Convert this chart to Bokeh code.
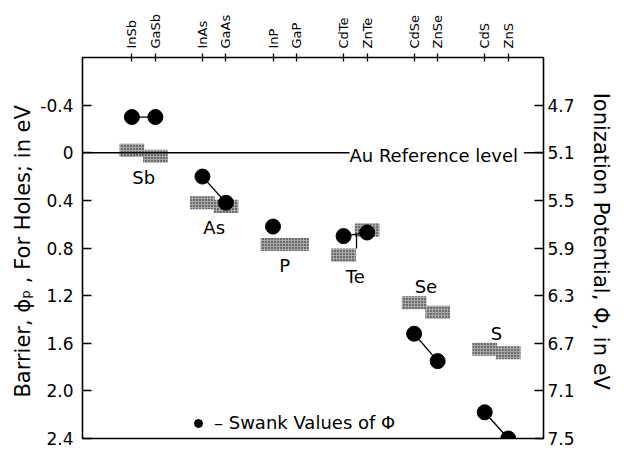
import math
from bokeh.plotting import figure
from bokeh.models import (Range1d, LinearAxis, FixedTicker, Legend, LegendItem,
                          Label, Span, ColumnDataSource)
from bokeh.embed import file_html
from bokeh.resources import INLINE

# ---------------- data ----------------
anions = ["Sb", "As", "P", "Te", "Se", "S"]
compounds = ["InSb", "GaSb", "InAs", "GaAs", "InP", "GaP",
             "CdTe", "ZnTe", "CdSe", "ZnSe", "CdS", "ZnS"]
# Swank values of barrier (eV, left axis); GaP has none
swank = [-0.30, -0.30, 0.20, 0.42, 0.62, float("nan"),
         0.70, 0.67, 1.52, 1.75, 2.18, 2.40]
# stippled bands (centre, eV)
band = [-0.02, 0.03, 0.42, 0.45, 0.77, 0.77,
        0.86, 0.65, 1.26, 1.34, 1.65, 1.68]
label_above = [False, False, False, False, True, True]
left_ticks = [-0.4, 0.0, 0.4, 0.8, 1.2, 1.6, 2.0, 2.4]
left_tick_labels = ["-0.4", "0", "0.4", "0.8", "1.2", "1.6", "2.0", "2.4"]
right_ticks = [4.7, 5.1, 5.5, 5.9, 6.3, 6.7, 7.1, 7.5]
ref_level = 5.1  # Au reference level, eV

FONT = "DejaVu Sans"

# positions from the group layout (pairs, one empty slot between groups)
xpos = [3 * (i // 2) + (i % 2) for i in range(len(compounds))]
group_x = [3 * g + 0.5 for g in range(len(anions))]

p = figure(width=624, height=449, output_backend="svg", toolbar_location=None,
           x_range=Range1d(-2.1, 17.5), y_range=Range1d(2.4, -0.8),
           min_border_left=82, min_border_right=81, min_border_top=57,
           min_border_bottom=11, x_axis_location=None, y_axis_location=None)
p.grid.visible = False
p.outline_line_color = "black"
p.outline_line_width = 1.6
p.background_fill_color = "white"
p.border_fill_color = "white"

# reference line at 0
p.add_layout(Span(location=0, dimension="width", line_color="black", line_width=1.3))

# stippled bands
bh = 0.11
src_band = ColumnDataSource(dict(x=xpos, y=band))
p.rect(x="x", y="y", width=1.05, height=bh, source=src_band,
       fill_color="#a8a8a8", line_color=None,
       hatch_pattern="dot", hatch_color="#111111", hatch_scale=3, hatch_weight=1.4)

# connector lines between pair circles
x0, y0, x1, y1 = [], [], [], []
for g in range(len(anions)):
    a, b = swank[2 * g], swank[2 * g + 1]
    if not (math.isnan(a) or math.isnan(b)):
        x0.append(xpos[2 * g]); y0.append(a)
        x1.append(xpos[2 * g + 1]); y1.append(b)
p.segment(x0=x0, y0=y0, x1=x1, y1=y1, line_color="black", line_width=1.3)

# Te bracket: from circle connector down to CdTe band
te = anions.index("Te")
p.segment(x0=[xpos[2 * te] + 0.55], y0=[(swank[2 * te] + swank[2 * te + 1]) / 2],
          x1=[xpos[2 * te] + 0.55], y1=[band[2 * te] - bh / 2],
          line_color="black", line_width=1.3)

# Swank circles
sx = [x for x, v in zip(xpos, swank) if not math.isnan(v)]
sy = [v for v in swank if not math.isnan(v)]
circ = p.scatter(x=sx, y=sy, size=15, marker="circle", fill_color="black",
                 line_color="black")

# anion labels
for g, name in enumerate(anions):
    ys = [band[2 * g], band[2 * g + 1]]
    if label_above[g]:
        p.add_layout(Label(x=group_x[g], y=min(ys) - bh / 2, text=name,
                           text_align="center", text_baseline="bottom",
                           y_offset=-1, text_font=FONT, text_font_size="18px",
                           text_color="black"))
    else:
        p.add_layout(Label(x=group_x[g], y=max(ys) + bh / 2, text=name,
                           text_align="center", text_baseline="top",
                           y_offset=-4, text_font=FONT, text_font_size="18px",
                           text_color="black"))

# Au reference text with white background over the line
p.add_layout(Label(x=9.25, y=0, text="Au  Reference level", text_align="left",
                   text_baseline="middle", y_offset=-3, text_font=FONT,
                   text_font_size="18px", text_color="black",
                   background_fill_color="white"))

# left axis
yl = LinearAxis(ticker=FixedTicker(ticks=left_ticks),
                axis_label="Barrier,  ϕₚ , For Holes; in eV")
yl.major_label_overrides = {t: s for t, s in zip(left_ticks, left_tick_labels)}
# right axis
p.extra_y_ranges = {"ip": Range1d(2.4 + ref_level, -0.8 + ref_level)}
yr = LinearAxis(y_range_name="ip", ticker=FixedTicker(ticks=right_ticks),
                axis_label="Ionization  Potential,  Φ, in eV")
for ax in (yl, yr):
    ax.major_tick_in = 9
    ax.major_tick_out = 0
    ax.minor_tick_line_color = None
    ax.axis_line_color = None
    ax.major_tick_line_width = 1.3
    ax.major_label_text_font = FONT
    ax.major_label_text_font_size = "17px"
    ax.major_label_text_color = "black"
    ax.axis_label_text_font = FONT
    ax.axis_label_text_font_size = "21px"
    ax.axis_label_text_font_style = "normal"
    ax.axis_label_text_color = "black"
yl.major_label_standoff = 9
yl.axis_label_standoff = 2
yr.major_label_standoff = 4
yr.axis_label_standoff = 11
p.add_layout(yl, "left")
p.add_layout(yr, "right")

# top axis with compound names
xt = LinearAxis(ticker=FixedTicker(ticks=xpos))
xt.major_label_overrides = {x: c for x, c in zip(xpos, compounds)}
xt.major_label_orientation = "vertical"
xt.major_tick_in = 4
xt.major_tick_out = 4
xt.major_tick_line_width = 1.3
xt.minor_tick_line_color = None
xt.axis_line_color = None
xt.major_label_text_font = FONT
xt.major_label_text_font_size = "13px"
xt.major_label_text_color = "black"
xt.major_label_standoff = 5
p.add_layout(xt, "above")

# legend
legend = Legend(items=[LegendItem(label="– Swank Values of Φ", renderers=[circ])],
                location=(106, 5), border_line_color=None,
                background_fill_alpha=0, padding=0, margin=0,
                label_text_font=FONT, label_text_font_size="18px",
                label_text_color="black",
                glyph_width=20, label_standoff=6)
p.add_layout(legend)

open("out.html", "w").write(file_html(p, INLINE))
